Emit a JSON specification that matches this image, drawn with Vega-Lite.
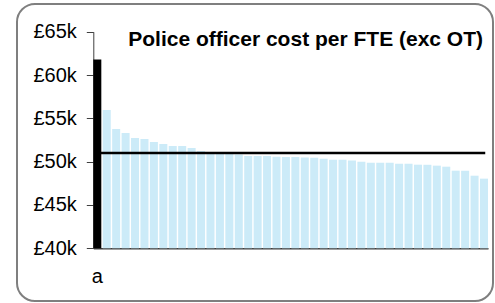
{
  "$schema": "https://vega.github.io/schema/vega-lite/v6.json",
  "width": 476,
  "height": 297,
  "autosize": "none",
  "padding": {"left": 17, "top": 4, "right": 2, "bottom": 2},
  "config": {
    "font": "Liberation Sans",
    "view": {"stroke": "#7f7f7f", "strokeWidth": 2, "cornerRadius": 18}
  },
  "title": {
    "text": "Police officer cost per FTE (exc OT)",
    "anchor": "end",
    "frame": "group",
    "orient": "top",
    "fontSize": 21,
    "fontWeight": "bold",
    "color": "#000000",
    "baseline": "alphabetic",
    "offset": -62.5,
    "dx": -10
  },
  "data": {
    "values": [
      {"force": "a", "cost": 61800, "avg": 51000, "own": "yes"},
      {"force": "f01", "cost": 55950, "avg": 51000, "own": "no"},
      {"force": "f02", "cost": 53780, "avg": 51000, "own": "no"},
      {"force": "f03", "cost": 53310, "avg": 51000, "own": "no"},
      {"force": "f04", "cost": 52740, "avg": 51000, "own": "no"},
      {"force": "f05", "cost": 52620, "avg": 51000, "own": "no"},
      {"force": "f06", "cost": 52270, "avg": 51000, "own": "no"},
      {"force": "f07", "cost": 52040, "avg": 51000, "own": "no"},
      {"force": "f08", "cost": 51810, "avg": 51000, "own": "no"},
      {"force": "f09", "cost": 51810, "avg": 51000, "own": "no"},
      {"force": "f10", "cost": 51580, "avg": 51000, "own": "no"},
      {"force": "f11", "cost": 51230, "avg": 51000, "own": "no"},
      {"force": "f12", "cost": 50950, "avg": 51000, "own": "no"},
      {"force": "f13", "cost": 50900, "avg": 51000, "own": "no"},
      {"force": "f14", "cost": 50870, "avg": 51000, "own": "no"},
      {"force": "f15", "cost": 50830, "avg": 51000, "own": "no"},
      {"force": "f16", "cost": 50660, "avg": 51000, "own": "no"},
      {"force": "f17", "cost": 50660, "avg": 51000, "own": "no"},
      {"force": "f18", "cost": 50650, "avg": 51000, "own": "no"},
      {"force": "f19", "cost": 50560, "avg": 51000, "own": "no"},
      {"force": "f20", "cost": 50550, "avg": 51000, "own": "no"},
      {"force": "f21", "cost": 50540, "avg": 51000, "own": "no"},
      {"force": "f22", "cost": 50470, "avg": 51000, "own": "no"},
      {"force": "f23", "cost": 50460, "avg": 51000, "own": "no"},
      {"force": "f24", "cost": 50350, "avg": 51000, "own": "no"},
      {"force": "f25", "cost": 50230, "avg": 51000, "own": "no"},
      {"force": "f26", "cost": 50220, "avg": 51000, "own": "no"},
      {"force": "f27", "cost": 50120, "avg": 51000, "own": "no"},
      {"force": "f28", "cost": 50000, "avg": 51000, "own": "no"},
      {"force": "f29", "cost": 49880, "avg": 51000, "own": "no"},
      {"force": "f30", "cost": 49880, "avg": 51000, "own": "no"},
      {"force": "f31", "cost": 49870, "avg": 51000, "own": "no"},
      {"force": "f32", "cost": 49770, "avg": 51000, "own": "no"},
      {"force": "f33", "cost": 49760, "avg": 51000, "own": "no"},
      {"force": "f34", "cost": 49650, "avg": 51000, "own": "no"},
      {"force": "f35", "cost": 49640, "avg": 51000, "own": "no"},
      {"force": "f36", "cost": 49540, "avg": 51000, "own": "no"},
      {"force": "f37", "cost": 49420, "avg": 51000, "own": "no"},
      {"force": "f38", "cost": 48960, "avg": 51000, "own": "no"},
      {"force": "f39", "cost": 48950, "avg": 51000, "own": "no"},
      {"force": "f40", "cost": 48380, "avg": 51000, "own": "no"},
      {"force": "f41", "cost": 48040, "avg": 51000, "own": "no"}
    ]
  },
  "encoding": {
    "x": {
      "field": "force",
      "type": "nominal",
      "sort": null,
      "scale": {"range": [76.3, 471], "paddingInner": 0.15, "paddingOuter": 0},
      "axis": {
        "title": null,
        "orient": "bottom",
        "offset": -52.7,
        "ticks": false,
        "tickSize": 0,
        "labelAngle": 0,
        "labelExpr": "datum.value == 'a' ? 'a' : ''",
        "labelFontSize": 20,
        "labelColor": "#000000",
        "labelBaseline": "alphabetic",
        "labelPadding": 34,
        "domainColor": "#404040",
        "domainWidth": 1.5,
        "grid": false
      }
    }
  },
  "layer": [
    {
      "mark": {"type": "bar"},
      "encoding": {
        "y": {
          "field": "cost",
          "type": "quantitative",
          "scale": {"domain": [40000, 65000], "range": [244.3, 27.7], "zero": false, "nice": false},
          "axis": {
            "title": null,
            "offset": -76.3,
            "values": [40000, 45000, 50000, 55000, 60000, 65000],
            "labelExpr": "'£' + (datum.value / 1000) + 'k'",
            "labelFontSize": 20,
            "labelColor": "#000000",
            "labelPadding": 10,
            "tickSize": 7,
            "tickColor": "#404040",
            "domainColor": "#404040",
            "grid": false
          }
        },
        "y2": {"datum": 40000},
        "color": {
          "field": "own",
          "type": "nominal",
          "scale": {"domain": ["yes", "no"], "range": ["#000000", "#CCEBF8"]},
          "legend": null
        }
      }
    },
    {
      "mark": {"type": "line", "color": "#000000", "strokeWidth": 2.5, "strokeCap": "square"},
      "encoding": {
        "y": {"field": "avg", "type": "quantitative"}
      }
    }
  ]
}
